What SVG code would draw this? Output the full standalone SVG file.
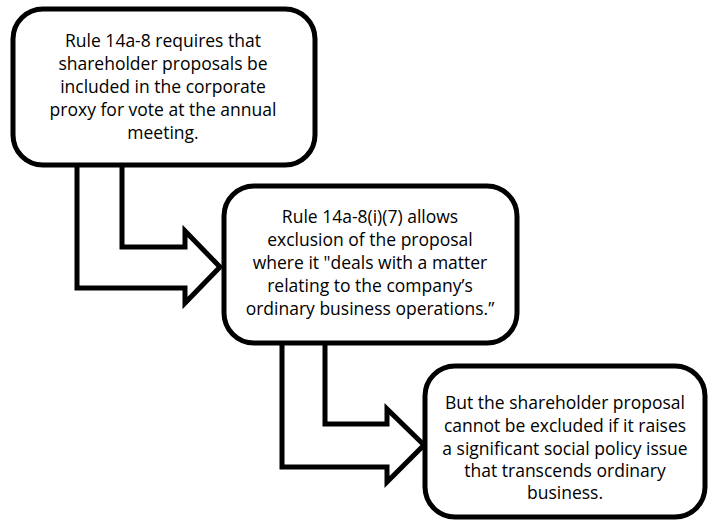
<svg xmlns="http://www.w3.org/2000/svg" width="711" height="523" viewBox="0 0 711 523">
<style>
.box{fill:#fff;stroke:#000;stroke-width:5}
.arr{fill:#fff;stroke:#000;stroke-width:5;stroke-linejoin:miter}
.t{font-family:"Open Sans","Liberation Sans",sans-serif;font-size:17.5px;fill:#000;text-anchor:middle}
</style>
<rect width="711" height="523" fill="#fff"/>
<g id="connectors">
<path class="arr" d="M77,160 L77,288 L185,288 L185,303 L220,267 L185,231 L185,247 L122,247 L122,160"/>
<path class="arr" d="M282,340 L282,467 L387,467 L387,482 L424,445 L387,409 L387,424 L325,424 L325,340"/>
</g>
<g id="node1">
<rect class="box" x="13" y="9" width="302" height="156" rx="30"/>
<text class="t" x="163" y="47">Rule 14a-8 requires that</text>
<text class="t" x="163" y="70">shareholder proposals be</text>
<text class="t" x="163" y="93">included in the corporate</text>
<text class="t" x="163" y="116">proxy for vote at the annual</text>
<text class="t" x="163" y="139">meeting.</text>
</g>
<g id="node2">
<rect class="box" x="224" y="186" width="293" height="157" rx="30"/>
<text class="t" x="370" y="223">Rule 14a-8(i)(7) allows</text>
<text class="t" x="370" y="246">exclusion of the proposal</text>
<text class="t" x="370" y="269">where it "deals with a matter</text>
<text class="t" x="370" y="292">relating to the company’s</text>
<text class="t" x="370" y="315">ordinary business operations.”</text>
</g>
<g id="node3">
<rect class="box" x="425" y="366" width="280" height="151" rx="30"/>
<text class="t" x="565" y="409">But the shareholder proposal</text>
<text class="t" x="565" y="432">cannot be excluded if it raises</text>
<text class="t" x="565" y="455">a significant social policy issue</text>
<text class="t" x="565" y="477">that transcends ordinary</text>
<text class="t" x="565" y="499">business.</text>
</g>
</svg>
